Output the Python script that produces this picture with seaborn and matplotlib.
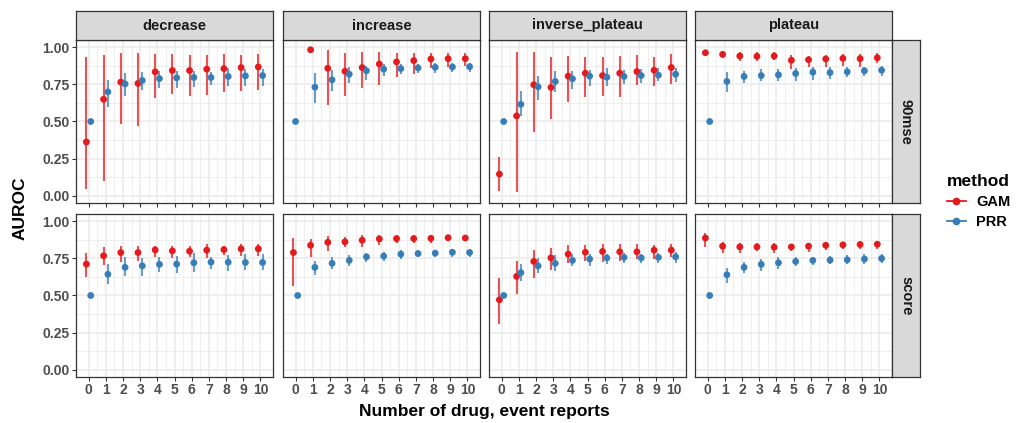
import numpy as np
import pandas as pd
import seaborn as sns
import matplotlib.pyplot as plt
from matplotlib.lines import Line2D
from matplotlib.ticker import FixedLocator

NA = np.nan

patterns = ["decrease", "increase", "inverse_plateau", "plateau"]
measures = ["90mse", "score"]
methods = ["GAM", "PRR"]
reports = list(range(11))
y_ticks = [0.0, 0.25, 0.5, 0.75, 1.0]
colors = {"GAM": "#E41A1C", "PRR": "#377EB8"}

# --- 90mse row: one list per pattern (decrease, increase, inverse_plateau, plateau)
gam_mse_mid = [
    [0.362, 0.65, 0.766, 0.757, 0.835, 0.844, 0.844, 0.853, 0.857, 0.864, 0.868],
    [NA, 0.984, 0.859, 0.839, 0.864, 0.888, 0.902, 0.911, 0.922, 0.924, 0.924],
    [0.145, 0.538, 0.748, 0.73, 0.806, 0.826, 0.81, 0.826, 0.837, 0.846, 0.864],
    [0.964, 0.953, 0.942, 0.94, 0.942, 0.913, 0.917, 0.922, 0.926, 0.924, 0.93],
]
gam_mse_lo = [
    [0.045, 0.10, 0.48, 0.469, 0.658, 0.685, 0.674, 0.68, 0.696, 0.708, 0.712],
    [NA, NA, 0.614, 0.67, 0.725, 0.743, 0.797, 0.819, 0.864, 0.87, 0.875],
    [0.029, 0.027, 0.429, 0.518, 0.63, 0.665, 0.674, 0.665, 0.748, 0.737, 0.752],
    [NA, 0.926, 0.911, 0.908, 0.913, 0.855, 0.87, 0.87, 0.877, 0.87, 0.897],
]
gam_mse_hi = [
    [0.938, 0.949, 0.96, 0.964, 0.955, 0.955, 0.95, 0.95, 0.953, 0.95, 0.953],
    [NA, NA, 0.982, 0.96, 0.967, 0.967, 0.96, 0.96, 0.96, 0.96, 0.96],
    [0.263, 0.966, 0.971, 0.938, 0.944, 0.933, 0.933, 0.944, 0.949, 0.933, 0.953],
    [NA, 0.975, 0.967, 0.967, 0.967, 0.949, 0.944, 0.949, 0.953, 0.953, 0.96],
]
prr_mse_mid = [
    [0.5, 0.70, 0.754, 0.777, 0.79, 0.795, 0.797, 0.797, 0.804, 0.808, 0.81],
    [0.5, 0.732, 0.781, 0.819, 0.842, 0.853, 0.857, 0.862, 0.866, 0.868, 0.87],
    [0.5, 0.616, 0.734, 0.77, 0.788, 0.806, 0.799, 0.804, 0.81, 0.8125, 0.819],
    [0.5, 0.77, 0.804, 0.81, 0.815, 0.824, 0.833, 0.83, 0.835, 0.842, 0.846],
]
prr_mse_lo = [
    [NA, 0.60, 0.674, 0.714, 0.725, 0.725, 0.73, 0.748, 0.741, 0.737, 0.741],
    [NA, 0.625, 0.708, 0.763, 0.78, 0.81, 0.82, 0.826, 0.826, 0.833, 0.837],
    [NA, 0.54, 0.647, 0.696, 0.72, 0.741, 0.741, 0.752, 0.763, 0.77, 0.765],
    [NA, 0.696, 0.759, 0.77, 0.77, 0.775, 0.78, 0.79, 0.797, 0.81, 0.808],
]
prr_mse_hi = [
    [NA, 0.78, 0.83, 0.833, 0.84, 0.84, 0.84, 0.837, 0.86, 0.853, 0.855],
    [NA, 0.826, 0.848, 0.866, 0.877, 0.886, 0.886, 0.89, 0.897, 0.897, 0.897],
    [NA, 0.708, 0.808, 0.84, 0.84, 0.848, 0.86, 0.848, 0.855, 0.86, 0.86],
    [NA, 0.833, 0.84, 0.853, 0.853, 0.86, 0.866, 0.866, 0.87, 0.87, 0.877],
]

# --- score row
gam_score_mid = [
    [0.712, 0.768, 0.79, 0.79, 0.808, 0.801, 0.799, 0.806, 0.81, 0.815, 0.815],
    [0.79, 0.839, 0.859, 0.862, 0.873, 0.882, 0.884, 0.884, 0.886, 0.89, 0.888],
    [0.471, 0.629, 0.73, 0.754, 0.779, 0.792, 0.797, 0.795, 0.795, 0.806, 0.806],
    [0.888, 0.833, 0.828, 0.828, 0.826, 0.828, 0.833, 0.839, 0.842, 0.844, 0.846],
]
gam_score_lo = [
    [0.627, 0.703, 0.728, 0.732, 0.761, 0.75, 0.757, 0.75, 0.772, 0.768, 0.768],
    [0.565, 0.761, 0.801, 0.828, 0.828, 0.844, 0.857, 0.857, 0.857, 0.868, 0.868],
    [0.31, 0.509, 0.616, 0.672, 0.717, 0.732, 0.728, 0.732, 0.746, 0.746, 0.757],
    [0.828, 0.79, 0.79, 0.799, 0.79, 0.801, 0.795, 0.806, 0.817, 0.812, 0.817],
]
gam_score_hi = [
    [0.79, 0.828, 0.833, 0.833, 0.833, 0.835, 0.833, 0.85, 0.835, 0.85, 0.85],
    [0.888, 0.884, 0.902, 0.895, 0.906, 0.906, 0.911, 0.911, 0.911, 0.911, 0.911],
    [0.62, 0.732, 0.806, 0.821, 0.839, 0.839, 0.846, 0.85, 0.85, 0.839, 0.85],
    [0.924, 0.862, 0.857, 0.857, 0.857, 0.85, 0.857, 0.862, 0.857, 0.868, 0.868],
]
prr_score_mid = [
    [0.5, 0.643, 0.69, 0.70, 0.71, 0.712, 0.721, 0.725, 0.725, 0.723, 0.723],
    [0.5, 0.69, 0.717, 0.737, 0.761, 0.766, 0.779, 0.783, 0.786, 0.792, 0.79],
    [0.5, 0.654, 0.70, 0.717, 0.737, 0.746, 0.754, 0.757, 0.754, 0.757, 0.761],
    [0.5, 0.64, 0.69, 0.71, 0.721, 0.73, 0.737, 0.739, 0.741, 0.746, 0.75],
]
prr_score_lo = [
    [NA, 0.576, 0.632, 0.632, 0.656, 0.654, 0.656, 0.679, 0.667, 0.672, 0.672],
    [NA, 0.638, 0.676, 0.70, 0.728, 0.732, 0.746, 0.757, 0.761, 0.761, 0.761],
    [NA, 0.598, 0.65, 0.667, 0.699, 0.70, 0.712, 0.717, 0.717, 0.717, 0.721],
    [NA, 0.587, 0.654, 0.667, 0.676, 0.70, 0.705, 0.71, 0.71, 0.71, 0.717],
]
prr_score_hi = [
    [NA, 0.712, 0.757, 0.754, 0.761, 0.766, 0.788, 0.761, 0.772, 0.777, 0.777],
    [NA, 0.732, 0.757, 0.772, 0.788, 0.795, 0.806, 0.806, 0.806, 0.817, 0.817],
    [NA, 0.71, 0.75, 0.772, 0.777, 0.777, 0.783, 0.788, 0.783, 0.79, 0.795],
    [NA, 0.688, 0.728, 0.743, 0.757, 0.757, 0.761, 0.766, 0.772, 0.777, 0.777],
]


# ---------------------------------------------------------------------------
# Long table + dodge (like position_dodge: lone point stays centred)
# ---------------------------------------------------------------------------

series = {
    ("90mse", "GAM"): (gam_mse_mid, gam_mse_lo, gam_mse_hi),
    ("90mse", "PRR"): (prr_mse_mid, prr_mse_lo, prr_mse_hi),
    ("score", "GAM"): (gam_score_mid, gam_score_lo, gam_score_hi),
    ("score", "PRR"): (prr_score_mid, prr_score_lo, prr_score_hi),
}

rows = []
for (measure, method), (mid, lo, hi) in series.items():
    for p, pattern in enumerate(patterns):
        for i, r in enumerate(reports):
            rows.append(dict(measure=measure, pattern=pattern, method=method,
                             reports=r, mid=mid[p][i], lo=lo[p][i], hi=hi[p][i]))
df = pd.DataFrame(rows)
df = df.dropna(subset=['mid']).reset_index(drop=True)

dodge = 0.125
n_at = df.groupby(['measure', 'pattern', 'reports'])['method'].transform('count')
offset = np.where(df['method'] == 'GAM', -dodge, dodge)
df['xpos'] = df['reports'] + np.where(n_at > 1, offset, 0.0)


# ---------------------------------------------------------------------------
# Plot
# ---------------------------------------------------------------------------

plt.rcParams['font.family'] = ['Liberation Sans', 'DejaVu Sans']
W, H = 1021, 423
fig = plt.figure(figsize=(W / 100, H / 100), dpi=100)

col_left = [76, 283, 489, 695]
panel_w = 197
row_top = [40, 214]
panel_h = 163
strip_h = 29
strip_w = 28
border = '#333333'
tick_col = '#4D4D4D'


def fig_rect(x, y, w, h):
    return [x / W, 1 - (y + h) / H, w / W, h / H]


for ri, measure in enumerate(measures):
    for ci, pattern in enumerate(patterns):
        ax = fig.add_axes(fig_rect(col_left[ci], row_top[ri], panel_w, panel_h))
        sub = df[(df['measure'] == measure) & (df['pattern'] == pattern)]

        rng = sub.dropna(subset=['lo', 'hi'])
        ax.vlines(rng['xpos'], rng['lo'], rng['hi'],
                  colors=rng['method'].map(colors), linewidth=1.5, alpha=0.75, zorder=2)
        sns.scatterplot(data=sub, x='xpos', y='mid', hue='method', palette=colors,
                        hue_order=methods, s=24, linewidth=0, legend=False, ax=ax, zorder=3)

        ax.set_xlim(-0.73, 10.73)
        ax.set_ylim(-0.05, 1.05)
        ax.set_xticks(reports)
        ax.xaxis.set_minor_locator(FixedLocator([r + 0.5 for r in reports[:-1]]))
        ax.set_yticks(y_ticks)
        ax.yaxis.set_minor_locator(FixedLocator([v + 0.125 for v in y_ticks[:-1]]))
        ax.grid(which='major', color='#EBEBEB', linewidth=1.1)
        ax.grid(which='minor', color='#EBEBEB', linewidth=0.55)
        ax.set_axisbelow(True)

        ax.set_xlabel(None)
        ax.set_ylabel(None)
        for s in ax.spines.values():
            s.set_color(border)
            s.set_linewidth(0.9)
        ax.tick_params(which='major', length=3, width=0.8, color=border,
                       labelsize=10, labelcolor=tick_col, pad=1.5)
        ax.tick_params(which='minor', length=0)

        if ri == 0:
            ax.set_xticklabels([])
        else:
            ax.set_xticklabels([str(r) for r in reports], fontweight='bold')
        if ci == 0:
            ax.set_yticklabels([f'{v:.2f}' for v in y_ticks], fontweight='bold')
        else:
            ax.set_yticklabels([])
            ax.tick_params(axis='y', length=0)

        # column strip
        if ri == 0:
            sax = fig.add_axes(fig_rect(col_left[ci], row_top[0] - strip_h, panel_w, strip_h))
            sax.set_facecolor('#D9D9D9')
            sax.set_xticks([])
            sax.set_yticks([])
            for s in sax.spines.values():
                s.set_color(border)
                s.set_linewidth(0.9)
            sax.text(0.5, 0.5, pattern, ha='center', va='center', fontsize=10.5,
                     fontweight='bold', color='#1A1A1A', transform=sax.transAxes)

    # row strip
    rax = fig.add_axes(fig_rect(col_left[-1] + panel_w, row_top[ri], strip_w, panel_h))
    rax.set_facecolor('#D9D9D9')
    rax.set_xticks([])
    rax.set_yticks([])
    for s in rax.spines.values():
        s.set_color(border)
        s.set_linewidth(0.9)
    rax.text(0.5, 0.5, measure, ha='center', va='center', fontsize=10.5, rotation=-90,
             fontweight='bold', color='#1A1A1A', transform=rax.transAxes)

# axis titles
fig.text(20 / W, 1 - 208 / H, 'AUROC', rotation=90, ha='center', va='center',
         fontsize=12.5, fontweight='bold')
fig.text(484 / W, 1 - 411 / H, 'Number of drug, event reports', ha='center', va='center',
         fontsize=12.5, fontweight='bold')

# legend
handles = [Line2D([0], [0], color=colors[m], marker='o', markersize=4.5, linewidth=1.3)
           for m in methods]
leg = fig.legend(handles, methods, title='method', loc='upper left',
                 bbox_to_anchor=(947 / W, 1 - 174 / H), frameon=False,
                 borderaxespad=0, borderpad=0,
                 handlelength=1.3, handletextpad=0.7, labelspacing=0.4,
                 prop={'weight': 'bold', 'size': 10.5},
                 title_fontproperties={'weight': 'bold', 'size': 12.5})
leg._legend_box.align = 'left'

fig.savefig('out.png', dpi=100)
